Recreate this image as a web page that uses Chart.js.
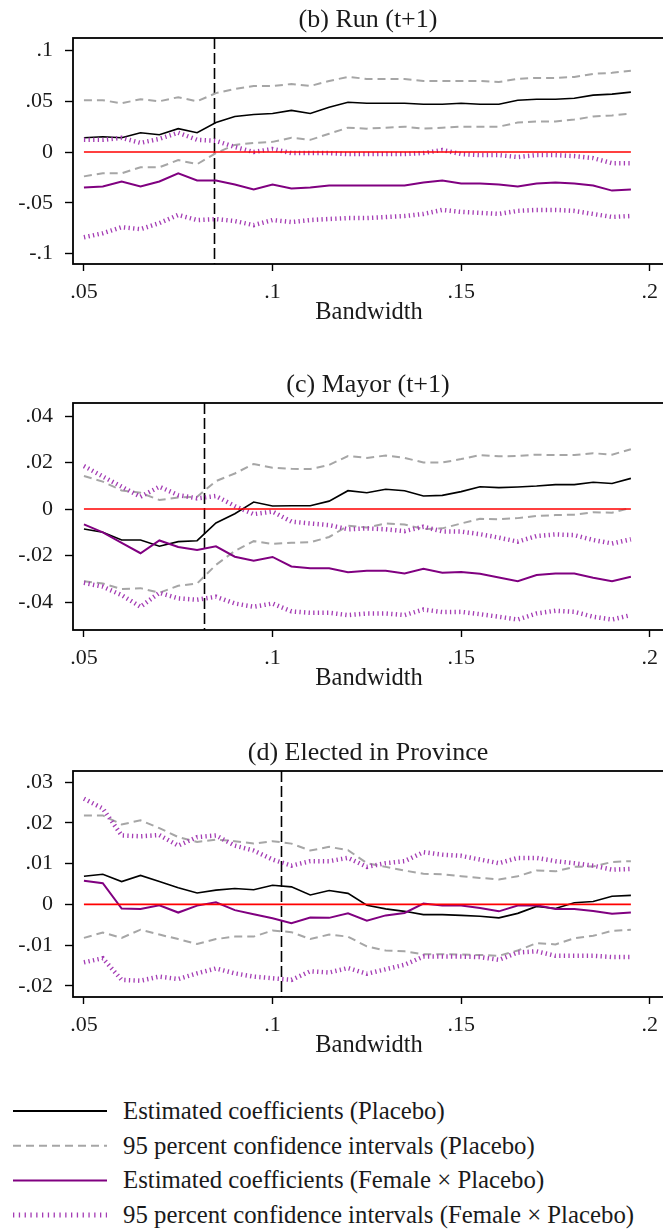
<!DOCTYPE html>
<html>
<head>
<meta charset="utf-8">
<script src="https://cdn.jsdelivr.net/npm/chart.js@4/dist/chart.umd.min.js"></script>
<style>
  html, body { margin: 0; padding: 0; background: #fff; }
  body { width: 663px; height: 1232px; position: relative; overflow: hidden; }
  canvas { position: absolute; left: 0; }
  #legend { position: absolute; left: 0; top: 1090px; }
</style>
</head>
<body>
<canvas id="runChart" width="666" height="330" style="top:0px"></canvas>
<canvas id="mayorChart" width="666" height="330" style="top:360px"></canvas>
<canvas id="provChart" width="666" height="330" style="top:730px"></canvas>
<svg id="legend" width="663" height="142" xmlns="http://www.w3.org/2000/svg"></svg>
<script>
// bandwidths on the x axis
const bandwidth = [0.05, 0.055, 0.06, 0.065, 0.07, 0.075, 0.08, 0.085, 0.09, 0.095,
  0.1, 0.105, 0.11, 0.115, 0.12, 0.125, 0.13, 0.135, 0.14, 0.145,
  0.15, 0.155, 0.16, 0.165, 0.17, 0.175, 0.18, 0.185, 0.19, 0.195];
const xTicks = [0.05, 0.1, 0.15, 0.2];

// (b) Run (t+1)
const runCoef = [0.014, 0.015, 0.014, 0.019, 0.017, 0.023, 0.019, 0.029, 0.035, 0.037, 0.038, 0.041, 0.038, 0.044, 0.049, 0.048, 0.048, 0.048, 0.047, 0.047, 0.048, 0.047, 0.047, 0.051, 0.052, 0.052, 0.053, 0.056, 0.057, 0.059];
const runHi = [0.051, 0.051, 0.048, 0.052, 0.050, 0.054, 0.050, 0.058, 0.062, 0.065, 0.065, 0.067, 0.065, 0.070, 0.074, 0.072, 0.072, 0.072, 0.070, 0.070, 0.070, 0.070, 0.069, 0.072, 0.073, 0.073, 0.074, 0.077, 0.078, 0.080];
const runLo = [-0.024, -0.021, -0.021, -0.015, -0.015, -0.008, -0.012, -0.001, 0.007, 0.009, 0.010, 0.014, 0.012, 0.018, 0.024, 0.023, 0.024, 0.025, 0.023, 0.024, 0.025, 0.025, 0.025, 0.029, 0.030, 0.030, 0.032, 0.035, 0.036, 0.038];
const runFem = [-0.035, -0.034, -0.029, -0.034, -0.029, -0.021, -0.028, -0.028, -0.032, -0.037, -0.032, -0.036, -0.035, -0.033, -0.033, -0.033, -0.033, -0.033, -0.030, -0.028, -0.031, -0.031, -0.032, -0.034, -0.031, -0.030, -0.031, -0.033, -0.038, -0.037];
const runFemHi = [0.012, 0.012, 0.014, 0.009, 0.013, 0.019, 0.012, 0.011, 0.005, 0.000, 0.003, -0.001, -0.001, -0.001, -0.002, -0.002, -0.002, -0.002, -0.001, 0.002, -0.002, -0.003, -0.003, -0.005, -0.003, -0.003, -0.004, -0.006, -0.011, -0.011];
const runFemLo = [-0.084, -0.080, -0.074, -0.076, -0.070, -0.062, -0.067, -0.066, -0.068, -0.072, -0.067, -0.069, -0.067, -0.066, -0.065, -0.065, -0.064, -0.063, -0.061, -0.057, -0.059, -0.060, -0.061, -0.058, -0.057, -0.057, -0.058, -0.061, -0.064, -0.063];
const runTicks = [-0.1, -0.05, 0, 0.05, 0.1];
const runCutoff = 0.0845;

// (c) Mayor (t+1)
const mayorCoef = [-0.0086, -0.010, -0.0133, -0.0133, -0.016, -0.014, -0.0136, -0.006, -0.002, 0.003, 0.0013, 0.0014, 0.0014, 0.0034, 0.0079, 0.007, 0.0085, 0.0079, 0.0056, 0.0059, 0.0075, 0.0096, 0.0092, 0.0095, 0.0099, 0.0105, 0.0105, 0.0115, 0.011, 0.0132];
const mayorHi = [0.0142, 0.0118, 0.008, 0.007, 0.0039, 0.005, 0.0053, 0.012, 0.0153, 0.0194, 0.0178, 0.0173, 0.0172, 0.019, 0.0228, 0.022, 0.023, 0.022, 0.020, 0.020, 0.0215, 0.0232, 0.0227, 0.0228, 0.0234, 0.0232, 0.0232, 0.024, 0.0234, 0.0257];
const mayorLo = [-0.031, -0.032, -0.0344, -0.034, -0.036, -0.033, -0.032, -0.024, -0.018, -0.0138, -0.015, -0.0145, -0.0143, -0.012, -0.0072, -0.0079, -0.0062, -0.0066, -0.0086, -0.0083, -0.0062, -0.0042, -0.0044, -0.0039, -0.003, -0.0026, -0.0024, -0.0014, -0.0016, 0.0006];
const mayorFem = [-0.0066, -0.010, -0.0145, -0.019, -0.0135, -0.0163, -0.0176, -0.016, -0.0205, -0.0222, -0.0206, -0.0247, -0.0255, -0.0255, -0.0272, -0.0265, -0.0265, -0.0277, -0.0257, -0.0274, -0.0271, -0.0278, -0.0294, -0.031, -0.0284, -0.0277, -0.0277, -0.0295, -0.031, -0.0291];
const mayorFemHi = [0.0185, 0.014, 0.0096, 0.0053, 0.0096, 0.006, 0.0046, 0.0056, 0.0013, -0.0022, -0.0011, -0.0054, -0.0062, -0.0069, -0.0087, -0.0083, -0.0087, -0.0095, -0.0076, -0.0096, -0.0097, -0.0108, -0.0123, -0.014, -0.0116, -0.0109, -0.0112, -0.0133, -0.0148, -0.013];
const mayorFemLo = [-0.0317, -0.0334, -0.037, -0.042, -0.036, -0.0384, -0.039, -0.0377, -0.0406, -0.042, -0.0406, -0.044, -0.0446, -0.0446, -0.0456, -0.0449, -0.0449, -0.0456, -0.0432, -0.0443, -0.0442, -0.0452, -0.0463, -0.0475, -0.0449, -0.0437, -0.0442, -0.0463, -0.0475, -0.0456];
const mayorTicks = [-0.04, -0.02, 0, 0.02, 0.04];
const mayorCutoff = 0.0818;

// (d) Elected in Province
const provCoef = [0.0069, 0.0074, 0.0056, 0.0071, 0.0056, 0.0041, 0.0028, 0.0035, 0.0039, 0.0036, 0.0047, 0.0043, 0.0023, 0.0034, 0.0027, -0.0002, -0.0011, -0.0017, -0.0025, -0.0025, -0.0027, -0.0029, -0.0033, -0.0022, -0.0005, -0.001, 0.0004, 0.0007, 0.002, 0.0022];
const provHi = [0.0218, 0.0218, 0.0196, 0.0206, 0.0187, 0.0165, 0.0153, 0.0159, 0.0155, 0.0149, 0.0155, 0.0149, 0.0132, 0.0141, 0.0133, 0.0101, 0.0092, 0.0083, 0.0075, 0.0074, 0.0069, 0.0065, 0.0061, 0.0069, 0.0083, 0.0081, 0.0092, 0.0093, 0.0104, 0.0106];
const provLo = [-0.0082, -0.0069, -0.0082, -0.0062, -0.0074, -0.0085, -0.0097, -0.0085, -0.0079, -0.0079, -0.0064, -0.0068, -0.0085, -0.0074, -0.0079, -0.0103, -0.0113, -0.0115, -0.0122, -0.0122, -0.0123, -0.0124, -0.0126, -0.0113, -0.0095, -0.0098, -0.0083, -0.0077, -0.0065, -0.0062];
const provFem = [0.0058, 0.0052, -0.001, -0.0011, -0.0002, -0.002, -0.0003, 0.0005, -0.0014, -0.0024, -0.0034, -0.0046, -0.0032, -0.0033, -0.0022, -0.004, -0.0027, -0.0021, 0.0002, -0.0003, -0.0003, -0.0009, -0.0017, -0.0003, -0.0002, -0.0011, -0.0011, -0.0016, -0.0023, -0.002];
const provFemHi = [0.0259, 0.0235, 0.0169, 0.0167, 0.017, 0.0144, 0.0165, 0.0169, 0.0144, 0.0132, 0.011, 0.0095, 0.0106, 0.0106, 0.0114, 0.0092, 0.0101, 0.0106, 0.0128, 0.0122, 0.0119, 0.011, 0.0101, 0.0114, 0.0114, 0.0106, 0.0101, 0.0095, 0.0085, 0.0087];
const provFemLo = [-0.0142, -0.0132, -0.0185, -0.0187, -0.0177, -0.0183, -0.0169, -0.0157, -0.0169, -0.0177, -0.0181, -0.0185, -0.0164, -0.0167, -0.0156, -0.017, -0.0159, -0.0148, -0.0128, -0.0128, -0.0128, -0.0129, -0.0136, -0.0118, -0.0115, -0.0126, -0.0126, -0.0126, -0.0129, -0.0129];
const provTicks = [-0.02, -0.01, 0, 0.01, 0.02, 0.03];
const provCutoff = 0.1023;

const legendLabels = [
  "Estimated coefficients (Placebo)",
  "95 percent confidence intervals (Placebo)",
  "Estimated coefficients (Female \u00d7 Placebo)",
  "95 percent confidence intervals (Female \u00d7 Placebo)",
];

const SERIF = '"Liberation Serif", "Times New Roman", serif';
const GRAY = "#a6a6a6";
const PURPLE = "#800080";
const PURPLE_DOT = "#a43cb4";

const styles = [
  { color: "#000", width: 1.6, dash: [] },
  { color: GRAY, width: 2, dash: [8, 5] },
  { color: PURPLE, width: 2, dash: [] },
  { color: PURPLE_DOT, width: 4.5, dash: [1.3, 3.3] },
];

function fmt(v) {
  if (v === 0) return "0";
  return String(+v.toFixed(3)).replace("0.", ".");
}

function pts(ys) {
  return ys.map((y, i) => ({ x: bandwidth[i], y: y }));
}

function line(ys, s) {
  return {
    data: pts(ys),
    borderColor: s.color,
    borderWidth: s.width,
    borderDash: s.dash,
    borderCapStyle: "butt",
    pointRadius: 0,
    tension: 0,
    order: 2,
  };
}

// frame, cutoff line, title and axis title
const framePlugin = {
  id: "frame",
  beforeDatasetsDraw(chart) {
    const { ctx, chartArea: a, scales } = chart;
    const cfg = chart.options.plugins.frame;
    const x = Math.round(scales.x.getPixelForValue(cfg.cutoff)) + 0.5;
    ctx.save();
    ctx.strokeStyle = "#000";
    ctx.lineWidth = 1.6;
    ctx.setLineDash([11, 4]);
    ctx.beginPath();
    ctx.moveTo(x, a.top);
    ctx.lineTo(x, a.bottom);
    ctx.stroke();
    ctx.restore();
  },
  afterDraw(chart) {
    const { ctx, chartArea: a } = chart;
    const cfg = chart.options.plugins.frame;
    ctx.save();
    ctx.strokeStyle = "#000";
    ctx.lineWidth = 1.8;
    ctx.strokeRect(a.left, a.top, a.right - a.left + 2, a.bottom - a.top);
    ctx.fillStyle = "#1a1a1a";
    ctx.textAlign = "center";
    ctx.textBaseline = "alphabetic";
    ctx.font = "26px " + SERIF;
    ctx.fillText(cfg.title, 368, a.top - 11);
    ctx.font = "24.5px " + SERIF;
    ctx.fillText("Bandwidth", 369, a.bottom + 55);
    ctx.restore();
  },
};

function makePanel(id, cfg) {
  const h = 330;
  new Chart(document.getElementById(id), {
    type: "line",
    data: {
      datasets: [
        {
          data: [{ x: bandwidth[0], y: 0 }, { x: bandwidth[bandwidth.length - 1], y: 0 }],
          borderColor: "#ff0000",
          borderWidth: 1.6,
          pointRadius: 0,
          order: 0,
        },
        line(cfg.femLo, styles[3]),
        line(cfg.femHi, styles[3]),
        line(cfg.fem, styles[2]),
        line(cfg.lo, styles[1]),
        line(cfg.hi, styles[1]),
        line(cfg.coef, styles[0]),
      ],
    },
    options: {
      responsive: false,
      animation: false,
      devicePixelRatio: 1,
      layout: { padding: { top: cfg.top, left: 0, right: 0, bottom: 0 } },
      plugins: {
        legend: { display: false },
        tooltip: { enabled: false },
        frame: { cutoff: cfg.cutoff, title: cfg.title },
      },
      scales: {
        x: {
          type: "linear",
          min: 0.0471,
          max: 0.2034,
          afterBuildTicks: (s) => { s.ticks = xTicks.map((v) => ({ value: v })); },
          afterFit: (s) => { s.height = h - cfg.bottom; },
          grid: { drawOnChartArea: false, tickLength: 7, tickColor: "#000", tickWidth: 1.4 },
          border: { display: false },
          ticks: {
            color: "#1a1a1a",
            padding: 8,
            maxRotation: 0,
            font: { family: SERIF, size: 22 },
            callback: (v) => fmt(v),
          },
        },
        y: {
          min: cfg.yMin,
          max: cfg.yMax,
          afterBuildTicks: (s) => { s.ticks = cfg.ticks.map((v) => ({ value: v })); },
          afterFit: (s) => { s.width = 73; },
          grid: { drawOnChartArea: false, tickLength: 8, tickColor: "#000", tickWidth: 1.4 },
          border: { display: false },
          ticks: {
            color: "#1a1a1a",
            padding: 12,
            font: { family: SERIF, size: 22 },
            callback: (v) => fmt(v),
          },
        },
      },
    },
    plugins: [framePlugin],
  });
}

makePanel("runChart", {
  title: "(b) Run (t+1)", top: 38, bottom: 264, yMin: -0.1103, yMax: 0.1123,
  ticks: runTicks, cutoff: runCutoff,
  coef: runCoef, hi: runHi, lo: runLo, fem: runFem, femHi: runFemHi, femLo: runFemLo,
});
makePanel("mayorChart", {
  title: "(c) Mayor (t+1)", top: 43, bottom: 270, yMin: -0.052, yMax: 0.0456,
  ticks: mayorTicks, cutoff: mayorCutoff,
  coef: mayorCoef, hi: mayorHi, lo: mayorLo, fem: mayorFem, femHi: mayorFemHi, femLo: mayorFemLo,
});
makePanel("provChart", {
  title: "(d) Elected in Province", top: 41, bottom: 267, yMin: -0.0227, yMax: 0.0327,
  ticks: provTicks, cutoff: provCutoff,
  coef: provCoef, hi: provHi, lo: provLo, fem: provFem, femHi: provFemHi, femLo: provFemLo,
});

// legend below the panels
const svg = document.getElementById("legend");
const NS = "http://www.w3.org/2000/svg";
legendLabels.forEach((label, i) => {
  const s = styles[i];
  const y = 21 + i * 34.7;
  const ln = document.createElementNS(NS, "line");
  ln.setAttribute("x1", 13);
  ln.setAttribute("x2", 107);
  ln.setAttribute("y1", y);
  ln.setAttribute("y2", y);
  ln.setAttribute("stroke", s.color);
  ln.setAttribute("stroke-width", i === 3 ? 5 : 2);
  if (s.dash.length) ln.setAttribute("stroke-dasharray", i === 3 ? "1.3 4.5" : "8 5");
  svg.appendChild(ln);
  const t = document.createElementNS(NS, "text");
  t.setAttribute("x", 123);
  t.setAttribute("y", y + 8);
  t.setAttribute("font-family", "Liberation Serif");
  t.setAttribute("font-size", "24.8");
  t.setAttribute("fill", "#1a1a1a");
  t.textContent = label;
  svg.appendChild(t);
});
</script>
</body>
</html>
